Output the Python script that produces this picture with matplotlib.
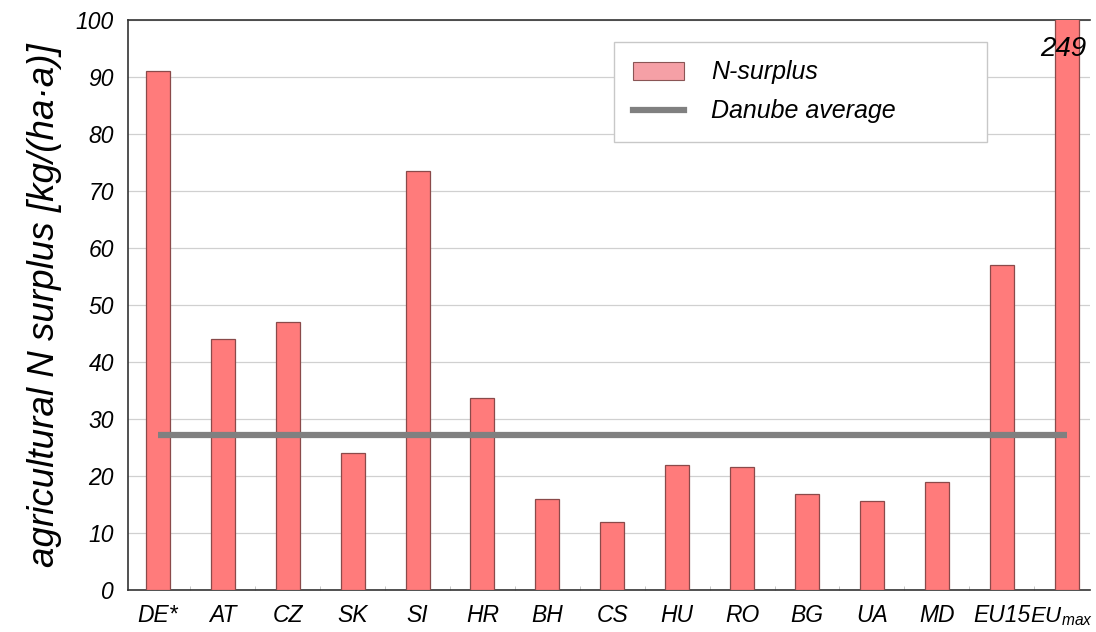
import matplotlib
matplotlib.use("Agg")
import matplotlib.pyplot as plt
from matplotlib.patches import Patch
from matplotlib.lines import Line2D

plt.rcParams['font.family'] = ['Liberation Sans', 'DejaVu Sans']
plt.rcParams['mathtext.fontset'] = 'custom'
plt.rcParams['mathtext.it'] = 'Liberation Sans:italic'
plt.rcParams['mathtext.rm'] = 'Liberation Sans:italic'

categories = ['DE*', 'AT', 'CZ', 'SK', 'SI', 'HR', 'BH', 'CS', 'HU', 'RO', 'BG', 'UA', 'MD', 'EU15', r'EU$_{max}$']
values = [91, 44, 47, 24, 73.5, 33.7, 16, 12, 22, 21.6, 16.8, 15.7, 19, 57, 249]
danube_average = 27.2
eumax_label = '249'

fig = plt.figure(figsize=(10.96, 6.32), dpi=100)
ax = fig.add_axes([128/1096, 42/632, 962/1096, 570/632])

x = list(range(len(categories)))
ax.bar(x, values, width=0.37, color='#FF7B7B', edgecolor='#8a4a4a', linewidth=0.9, zorder=3)
ax.plot([x[0], x[-1]], [danube_average, danube_average], color='#808080', linewidth=4.5, zorder=4,
        solid_capstyle='butt')

ax.text(x[-1] - 0.05, 95, eumax_label, ha='center', va='center', fontsize=20, style='italic', zorder=5)

ax.set_ylim(0, 100)
ax.set_xlim(-0.46, len(categories) - 1 + 0.36)
ax.set_yticks(range(0, 101, 10))
ax.set_xticks(x)
ax.set_xticklabels(categories[:-1] + [''], fontsize=16.5, style='italic')
ax.text(x[-1] - 0.08, -0.057, categories[-1], transform=ax.get_xaxis_transform(),
        ha='center', va='baseline', fontsize=16, style='italic')
for lbl in ax.get_yticklabels():
    lbl.set_fontsize(16.5)
    lbl.set_style('italic')
ax.set_xticks([i + 0.5 for i in x[:-1]], minor=True)
ax.tick_params(axis='x', which='major', length=0, pad=10)
ax.tick_params(axis='x', which='minor', length=3, color='#bbbbbb', direction='in')
ax.tick_params(axis='y', length=0, pad=10)

ax.grid(axis='y', color='#d0d0d0', linewidth=0.9, zorder=0)
for side in ['top', 'left', 'bottom']:
    ax.spines[side].set_color('#333333')
    ax.spines[side].set_linewidth(1.2)
ax.spines['right'].set_visible(False)

ax.set_ylabel('agricultural N surplus [kg/(ha·a)]', fontsize=26.5, style='italic')
ax.yaxis.set_label_coords(-0.069, 0.5)

handles = [Patch(facecolor='#F5A0A6', edgecolor='#8a5555', linewidth=0.8),
           Line2D([0], [0], color='#808080', linewidth=4.5)]
leg = ax.legend(handles, ['N-surplus', 'Danube average'], loc='upper left',
                bbox_to_anchor=(0.505, 0.781, 0.388, 0.181), mode='expand',
                fancybox=False, framealpha=1,
                edgecolor='#c8c8c8', fontsize=18, handlelength=2.05, handleheight=0.72,
                borderpad=0.75, labelspacing=0.6, handletextpad=1.1, borderaxespad=0)
for t in leg.get_texts():
    t.set_style('italic')
leg.get_frame().set_linewidth(1.0)

fig.savefig('out.png', dpi=100)
